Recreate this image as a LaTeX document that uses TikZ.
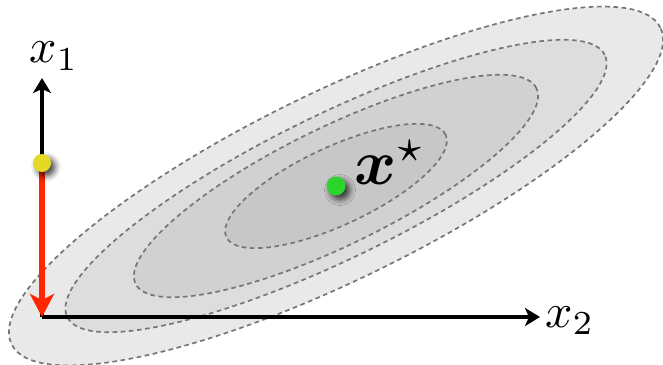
\documentclass[tikz,border=0pt]{standalone}
\usepackage{amsmath,bm}
\usetikzlibrary{arrows.meta,shadows.blur}
\definecolor{lvl1}{RGB}{233,233,233}
\definecolor{lvl2}{RGB}{221,221,221}
\definecolor{lvl3}{RGB}{209,209,209}
\definecolor{lvl4}{RGB}{199,199,199}
\definecolor{contour}{RGB}{118,118,118}
\definecolor{arrred}{RGB}{255,38,0}
\definecolor{dotyellow}{RGB}{228,218,38}
\definecolor{dotgreen}{RGB}{44,212,44}
\tikzset{
  level/.style={draw=contour,line width=0.85pt,dash pattern=on 2.3pt off 1.8pt,fill=#1},
  axisline/.style={line width=2pt,-{Stealth[length=7.5pt,width=9pt,inset=2pt]}},
  descent/.style={draw=arrred,line width=3pt,-{Stealth[length=11.5pt,width=12pt,inset=3pt]}},
  dotstyle/.style={circle,inner sep=0pt,minimum size=#1,
    blur shadow={shadow xshift=2pt,shadow yshift=-2pt,shadow blur radius=3pt,shadow opacity=75}},
  lab/.style={inner sep=0pt,scale=2.4,transform shape},
  biglab/.style={inner sep=0pt,scale=3.2,transform shape}
}
\begin{document}
\begin{tikzpicture}[x=0.5pt,y=0.5pt]
\useasboundingbox (0,0) rectangle (663,364);
\coordinate (C) at (336,178);
\coordinate (O) at (42,47);
\coordinate (T1) at (42,286);
\coordinate (T2) at (540,47);
% contour levels
\path[level=lvl1,rotate around={26:(C)}] (C) ellipse [x radius=180.5pt,y radius=47pt];
\path[level=lvl2,rotate around={26:(C)}] (C) ellipse [x radius=149.5pt,y radius=36pt];
\path[level=lvl3,rotate around={26:(C)}] (C) ellipse [x radius=111.5pt,y radius=29.5pt];
\path[level=lvl4,rotate around={25:(C)}] (C) ellipse [x radius=60.5pt,y radius=19.5pt];
% axes
\draw[axisline] (O) -- (T1);
\draw[axisline] (O) -- (T2);
\node[lab,anchor=base] (lx1) at (54,301) {$x_1$};
\node[lab,anchor=base] (lx2) at (570,37) {$x_2$};
% start point and descent step
\coordinate (Y) at (42,201);
\draw[descent] (Y) -- (O);
\node[dotstyle=9pt,fill=dotyellow] (Yd) at (Y) {};
% optimum
\node[dotstyle=9.5pt,fill=dotgreen] (G) at (C) {};
\node[biglab,anchor=base west] (lxs) at (353,179) {$\bm{x}^\star$};
\end{tikzpicture}
\end{document}
